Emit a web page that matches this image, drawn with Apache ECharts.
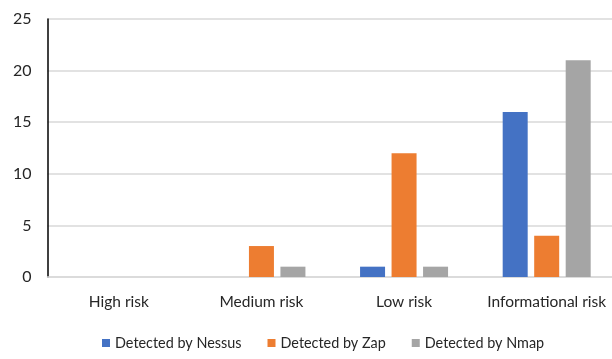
<!DOCTYPE html>
<html><head><meta charset="utf-8">
<script src="https://cdn.jsdelivr.net/npm/echarts@6/dist/echarts.min.js"></script>
<style>html,body{margin:0;padding:0;background:#fff;overflow:hidden}#c{width:618px;height:359px}</style>
</head><body><div id="c"></div>
<script>
const categories = ['High risk', 'Medium risk', 'Low risk', 'Informational risk'];
const seriesNames = ['Detected by Nessus', 'Detected by Zap', 'Detected by Nmap'];
const nessus = [0, 0, 1, 16];
const zap = [0, 3, 12, 4];
const nmap = [0, 1, 1, 21];
const colors = ['#4472C4', '#ED7D31', '#A5A5A5'];
const font = 'Lato, "Open Sans", sans-serif';
const chart = echarts.init(document.getElementById('c'), null, {renderer: 'canvas'});
const data = [nessus, zap, nmap];
chart.setOption({
  animation: false,
  color: colors,
  textStyle: {fontFamily: font},
  grid: {left: 47.5, right: 0, top: 19, bottom: 82, containLabel: false},
  legend: {
    bottom: 4, left: 97, itemWidth: 8, itemHeight: 8, itemGap: 26,
    icon: 'rect',
    textStyle: {fontSize: 14.4, color: '#262626', fontFamily: font},
    data: seriesNames
  },
  xAxis: {
    type: 'category', data: categories,
    axisLine: {show: true, lineStyle: {color: '#d9d9d9', width: 1.5}},
    axisTick: {show: false},
    axisLabel: {fontSize: 15.5, color: '#262626', margin: 17, interval: 0, fontFamily: font}
  },
  yAxis: {
    type: 'value', min: 0, max: 25, interval: 5,
    axisLine: {show: true, lineStyle: {color: '#000', width: 1.5}},
    axisTick: {show: false},
    splitLine: {lineStyle: {color: '#d9d9d9', width: 1.5}},
    axisLabel: {fontSize: 16, color: '#262626', margin: 16, fontFamily: font}
  },
  series: seriesNames.map((n, i) => ({
    name: n, type: 'bar', data: data[i], barWidth: 25, barGap: '26%',
    itemStyle: {color: colors[i]}
  }))
});
</script></body></html>
